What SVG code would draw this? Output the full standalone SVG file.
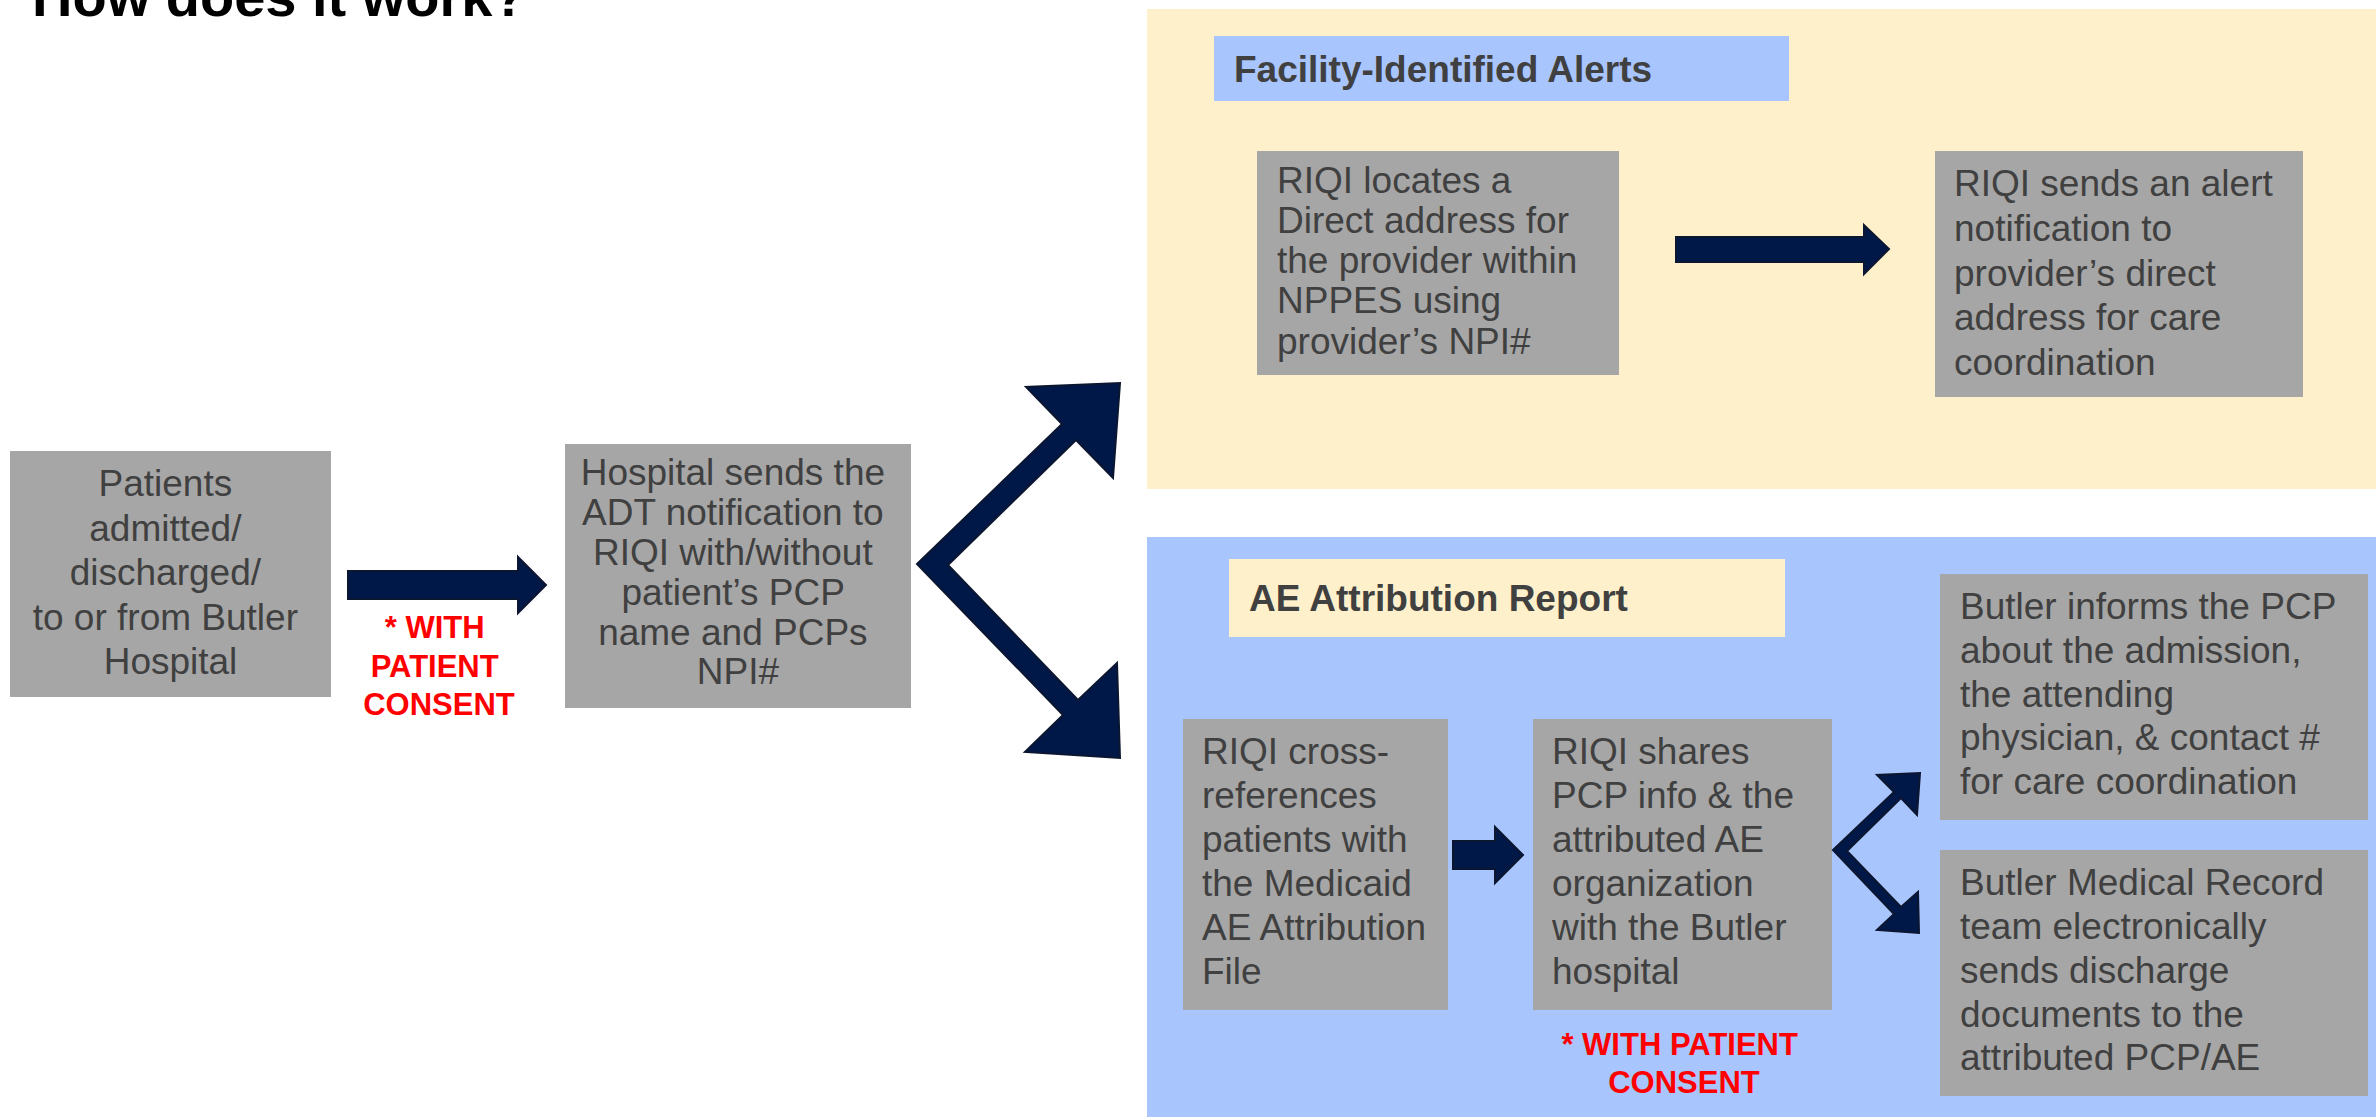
<svg xmlns="http://www.w3.org/2000/svg" width="2376" height="1117" viewBox="0 0 2376 1117">
<style>
  text { font-family: "Liberation Sans", Arial, sans-serif; }
  .box { fill: #A6A6A6; }
  .t { font-size: 37px; fill: #404040; }
  .c { text-anchor: middle; }
  .lbl { font-size: 37px; font-weight: bold; fill: #404040; }
  .red { font-size: 31px; font-weight: bold; fill: #FF0000; text-anchor: middle; }
  .arrow { fill: #001848; stroke: #0B1630; stroke-width: 2; stroke-linejoin: miter; }
</style>
<rect x="0" y="0" width="2376" height="1117" fill="#FFFFFF"/>
<text x="32" y="16" font-size="56" font-weight="bold" fill="#000000">How does it work?</text>

<g id="panel-facility">
  <rect x="1147" y="9" width="1229" height="480" fill="#FEF0CB"/>
  <rect x="1214" y="36" width="575" height="65" fill="#A8C5FE"/>
  <text class="lbl" x="1234" y="82">Facility-Identified Alerts</text>
</g>
<g id="panel-ae">
  <rect x="1147" y="537" width="1229" height="580" fill="#A8C5FE"/>
  <rect x="1229" y="559" width="556" height="78" fill="#FEF0CB"/>
  <text class="lbl" x="1249" y="611">AE Attribution Report</text>
</g>

<g id="node-patients">
  <rect class="box" x="10" y="451" width="321" height="246"/>
  <text class="t c">
    <tspan x="170.5" y="496">Patients</tspan>
    <tspan x="170.5" y="541">admitted/</tspan>
    <tspan x="170.5" y="585">discharged/</tspan>
    <tspan x="170.5" y="630">to or from Butler</tspan>
    <tspan x="170.5" y="674">Hospital</tspan>
  </text>
</g>

<g id="node-hospital">
  <rect class="box" x="565" y="444" width="346" height="264"/>
  <text class="t c">
    <tspan x="738" y="485">Hospital sends the</tspan>
    <tspan x="738" y="525">ADT notification to</tspan>
    <tspan x="738" y="565">RIQI with/without</tspan>
    <tspan x="738" y="605">patient’s PCP</tspan>
    <tspan x="738" y="645">name and PCPs</tspan>
    <tspan x="738" y="684">NPI#</tspan>
  </text>
</g>

<g id="node-locates">
  <rect class="box" x="1257" y="151" width="362" height="224"/>
  <text class="t">
    <tspan x="1277" y="193">RIQI locates a</tspan>
    <tspan x="1277" y="233">Direct address for</tspan>
    <tspan x="1277" y="273">the provider within</tspan>
    <tspan x="1277" y="313">NPPES using</tspan>
    <tspan x="1277" y="354">provider’s NPI#</tspan>
  </text>
</g>

<g id="node-sends-alert">
  <rect class="box" x="1935" y="151" width="368" height="246"/>
  <text class="t">
    <tspan x="1954" y="196">RIQI sends an alert</tspan>
    <tspan x="1954" y="241">notification to</tspan>
    <tspan x="1954" y="286">provider’s direct</tspan>
    <tspan x="1954" y="330">address for care</tspan>
    <tspan x="1954" y="375">coordination</tspan>
  </text>
</g>

<g id="node-cross-ref">
  <rect class="box" x="1183" y="719" width="265" height="291"/>
  <text class="t">
    <tspan x="1202" y="764">RIQI cross-</tspan>
    <tspan x="1202" y="808">references</tspan>
    <tspan x="1202" y="852">patients with</tspan>
    <tspan x="1202" y="896">the Medicaid</tspan>
    <tspan x="1202" y="940">AE Attribution</tspan>
    <tspan x="1202" y="984">File</tspan>
  </text>
</g>

<g id="node-shares">
  <rect class="box" x="1533" y="719" width="299" height="291"/>
  <text class="t">
    <tspan x="1552" y="764">RIQI shares</tspan>
    <tspan x="1552" y="808">PCP info &amp; the</tspan>
    <tspan x="1552" y="852">attributed AE</tspan>
    <tspan x="1552" y="896">organization</tspan>
    <tspan x="1552" y="940">with the Butler</tspan>
    <tspan x="1552" y="984">hospital</tspan>
  </text>
</g>

<g id="node-informs">
  <rect class="box" x="1940" y="574" width="428" height="246"/>
  <text class="t">
    <tspan x="1960" y="619">Butler informs the PCP</tspan>
    <tspan x="1960" y="663">about the admission,</tspan>
    <tspan x="1960" y="707">the attending</tspan>
    <tspan x="1960" y="750">physician, &amp; contact #</tspan>
    <tspan x="1960" y="794">for care coordination</tspan>
  </text>
</g>

<g id="node-medical-record">
  <rect class="box" x="1940" y="850" width="428" height="246"/>
  <text class="t">
    <tspan x="1960" y="895">Butler Medical Record</tspan>
    <tspan x="1960" y="939">team electronically</tspan>
    <tspan x="1960" y="983">sends discharge</tspan>
    <tspan x="1960" y="1027">documents to the</tspan>
    <tspan x="1960" y="1070">attributed PCP/AE</tspan>
  </text>
</g>

<g id="connectors">
  <polygon class="arrow" points="348,571 518,571 518,557 546,585 518,613 518,599 348,599"/>
  <polygon class="arrow" points="917,564 1062,424 1026,387 1120,383 1113,478 1076,440 948,565 1078,700 1117,663 1120,758 1025,752 1063,715"/>
  <polygon class="arrow" points="1676,237 1864,237 1864,225 1889,249 1864,274 1864,262 1676,262"/>
  <polygon class="arrow" points="1453,841 1495,841 1495,827 1523,855 1495,883 1495,869 1453,869"/>
  <polygon class="arrow" points="1833,850 1894,792 1877,775 1920,773 1917,815 1901,798 1847,851 1901,907 1918,892 1919,933 1877,930 1894,914"/>
</g>

<g id="consent-labels">
  <text class="red">
    <tspan x="439" y="638">* WITH</tspan>
    <tspan x="439" y="677">PATIENT</tspan>
    <tspan x="439" y="715">CONSENT</tspan>
  </text>
  <text class="red">
    <tspan x="1684" y="1055">* WITH PATIENT</tspan>
    <tspan x="1684" y="1093">CONSENT</tspan>
  </text>
</g>
</svg>
